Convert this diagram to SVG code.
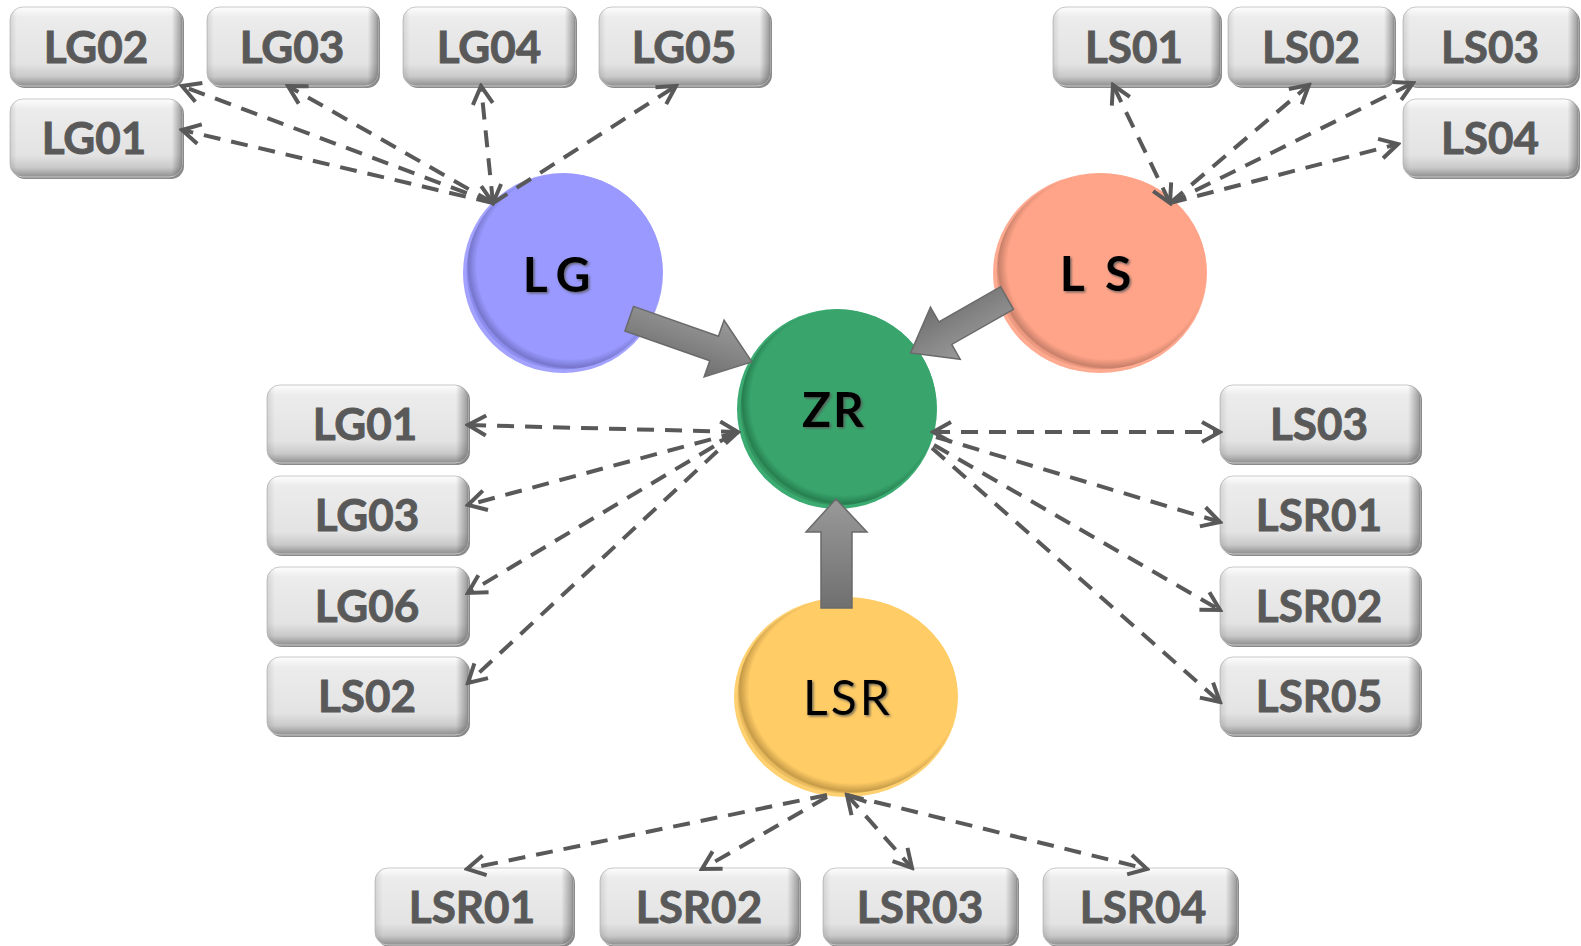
<svg xmlns="http://www.w3.org/2000/svg" width="1581" height="946" viewBox="0 0 1581 946">
<style>
.bs{fill:#8a8a8a}
.bf{fill:url(#boxg);stroke:#c8c8c8;stroke-width:1}
.bh{fill:url(#boxh)}
.bt{font-family:Lato,"Liberation Sans",sans-serif;font-weight:bold;font-size:44px;fill:#595959;stroke:#595959;stroke-width:0.9;text-anchor:middle}
.ct{font-family:Lato,"Liberation Sans",sans-serif;font-size:48px;fill:#000;text-anchor:middle;filter:url(#tsh)}
.dl{fill:none;stroke:#595959;stroke-width:4;stroke-dasharray:17 11;marker-end:url(#ah)}
.ds{marker-start:url(#ah)}
.ta{fill:url(#arg);stroke:#6a6a6a;stroke-width:1.5}
</style>
<defs>
<linearGradient id="boxg" x1="0" y1="0" x2="0" y2="1">
<stop offset="0" stop-color="#fdfdfd"/>
<stop offset="0.13" stop-color="#ececec"/>
<stop offset="0.72" stop-color="#e3e3e3"/>
<stop offset="0.88" stop-color="#c9c9c9"/>
<stop offset="1" stop-color="#8e8e8e"/>
</linearGradient>
<linearGradient id="boxh" x1="0" y1="0" x2="1" y2="0">
<stop offset="0" stop-color="#000" stop-opacity="0.1"/>
<stop offset="0.04" stop-color="#000" stop-opacity="0"/>
<stop offset="0.94" stop-color="#000" stop-opacity="0"/>
<stop offset="1" stop-color="#000" stop-opacity="0.35"/>
</linearGradient>
<linearGradient id="arg" x1="0" y1="0" x2="0" y2="1">
<stop offset="0" stop-color="#999"/>
<stop offset="0.5" stop-color="#858585"/>
<stop offset="1" stop-color="#6f6f6f"/>
</linearGradient>
<radialGradient id="gLG" cx="0.53" cy="0.47" r="0.53">
<stop offset="0.9" stop-color="#9999ff"/>
<stop offset="0.98" stop-color="#7676cc"/>
<stop offset="1" stop-color="#8e8ef0"/>
</radialGradient>
<radialGradient id="gZR" cx="0.53" cy="0.47" r="0.53">
<stop offset="0.9" stop-color="#39a56d"/>
<stop offset="0.98" stop-color="#267f50"/>
<stop offset="1" stop-color="#33955f"/>
</radialGradient>
<radialGradient id="gLS" cx="0.53" cy="0.47" r="0.53">
<stop offset="0.9" stop-color="#ffa488"/>
<stop offset="0.98" stop-color="#c8806a"/>
<stop offset="1" stop-color="#ee9a80"/>
</radialGradient>
<radialGradient id="gLSR" cx="0.53" cy="0.47" r="0.53">
<stop offset="0.9" stop-color="#ffcc66"/>
<stop offset="0.98" stop-color="#c69b48"/>
<stop offset="1" stop-color="#ecbd5e"/>
</radialGradient>
<filter id="tsh" x="-20%" y="-20%" width="140%" height="140%">
<feDropShadow dx="1.5" dy="1.5" stdDeviation="0.8" flood-color="#555" flood-opacity="0.8"/>
</filter>
<marker id="ah" viewBox="0 0 24 24" refX="21" refY="12" markerWidth="24" markerHeight="24" markerUnits="userSpaceOnUse" orient="auto-start-reverse">
<path d="M3,2 L21,12 L3,22" fill="none" stroke="#595959" stroke-width="4" stroke-dasharray="none" stroke-linejoin="miter"/>
</marker>
</defs>
<rect width="1581" height="946" fill="#fff"/>

<g id="node-LG">
<circle cx="563" cy="273" r="100" fill="#a3a3ff"/>
<ellipse cx="564.5" cy="271.5" rx="98" ry="98" fill="url(#gLG)"/>
<text class="ct" x="561" y="292" font-weight="bold" letter-spacing="9">LG</text>
</g>
<g id="node-ZR">
<circle cx="837" cy="409" r="100" fill="#3cab72"/>
<ellipse cx="838.5" cy="407.5" rx="98" ry="98" fill="url(#gZR)"/>
<text class="ct" x="834" y="427" font-weight="bold" letter-spacing="2">ZR</text>
</g>
<g id="node-LS">
<ellipse cx="1100" cy="273" rx="107" ry="100" fill="#ffab92"/>
<ellipse cx="1101.5" cy="271.5" rx="105" ry="98" fill="url(#gLS)"/>
<text class="ct" x="1098" y="291" font-weight="bold" letter-spacing="5">L S</text>
</g>
<g id="node-LSR">
<ellipse cx="846" cy="697" rx="112" ry="100" fill="#ffd070"/>
<ellipse cx="847.5" cy="695.5" rx="110" ry="98" fill="url(#gLSR)"/>
<text class="ct" x="848" y="715" letter-spacing="3">LSR</text>
</g>

<g id="box-LG02"><rect class="bs" x="12" y="9" width="172" height="79" rx="13"/><rect class="bf" x="10" y="7" width="172" height="79" rx="13"/><rect class="bh" x="10" y="7" width="172" height="79" rx="13"/><text class="bt" x="96" y="63">LG02</text></g>
<g id="box-LG03"><rect class="bs" x="209" y="9" width="171" height="79" rx="13"/><rect class="bf" x="207" y="7" width="171" height="79" rx="13"/><rect class="bh" x="207" y="7" width="171" height="79" rx="13"/><text class="bt" x="292" y="63">LG03</text></g>
<g id="box-LG04"><rect class="bs" x="405" y="9" width="172" height="79" rx="13"/><rect class="bf" x="403" y="7" width="172" height="79" rx="13"/><rect class="bh" x="403" y="7" width="172" height="79" rx="13"/><text class="bt" x="489" y="63">LG04</text></g>
<g id="box-LG05"><rect class="bs" x="601" y="9" width="171" height="79" rx="13"/><rect class="bf" x="599" y="7" width="171" height="79" rx="13"/><rect class="bh" x="599" y="7" width="171" height="79" rx="13"/><text class="bt" x="684" y="63">LG05</text></g>
<g id="box-LG01a"><rect class="bs" x="12" y="101" width="172" height="78" rx="13"/><rect class="bf" x="10" y="99" width="172" height="78" rx="13"/><rect class="bh" x="10" y="99" width="172" height="78" rx="13"/><text class="bt" x="94" y="154">LG01</text></g>

<g id="box-LS01"><rect class="bs" x="1055" y="9" width="167" height="79" rx="13"/><rect class="bf" x="1053" y="7" width="167" height="79" rx="13"/><rect class="bh" x="1053" y="7" width="167" height="79" rx="13"/><text class="bt" x="1134" y="63">LS01</text></g>
<g id="box-LS02"><rect class="bs" x="1230" y="9" width="166" height="79" rx="13"/><rect class="bf" x="1228" y="7" width="166" height="79" rx="13"/><rect class="bh" x="1228" y="7" width="166" height="79" rx="13"/><text class="bt" x="1311" y="63">LS02</text></g>
<g id="box-LS03a"><rect class="bs" x="1405" y="9" width="175" height="79" rx="13"/><rect class="bf" x="1403" y="7" width="175" height="79" rx="13"/><rect class="bh" x="1403" y="7" width="175" height="79" rx="13"/><text class="bt" x="1490" y="63">LS03</text></g>
<g id="box-LS04"><rect class="bs" x="1405" y="101" width="175" height="78" rx="13"/><rect class="bf" x="1403" y="99" width="175" height="78" rx="13"/><rect class="bh" x="1403" y="99" width="175" height="78" rx="13"/><text class="bt" x="1490" y="154">LS04</text></g>

<g id="box-LG01b"><rect class="bs" x="269" y="387" width="201" height="78" rx="13"/><rect class="bf" x="267" y="385" width="201" height="78" rx="13"/><rect class="bh" x="267" y="385" width="201" height="78" rx="13"/><text class="bt" x="365" y="440">LG01</text></g>
<g id="box-LG03b"><rect class="bs" x="269" y="478" width="201" height="78" rx="13"/><rect class="bf" x="267" y="476" width="201" height="78" rx="13"/><rect class="bh" x="267" y="476" width="201" height="78" rx="13"/><text class="bt" x="367" y="531">LG03</text></g>
<g id="box-LG06"><rect class="bs" x="269" y="569" width="201" height="78" rx="13"/><rect class="bf" x="267" y="567" width="201" height="78" rx="13"/><rect class="bh" x="267" y="567" width="201" height="78" rx="13"/><text class="bt" x="367" y="622">LG06</text></g>
<g id="box-LS02b"><rect class="bs" x="269" y="659" width="201" height="78" rx="13"/><rect class="bf" x="267" y="657" width="201" height="78" rx="13"/><rect class="bh" x="267" y="657" width="201" height="78" rx="13"/><text class="bt" x="367" y="712">LS02</text></g>

<g id="box-LS03b"><rect class="bs" x="1222" y="387" width="200" height="78" rx="13"/><rect class="bf" x="1220" y="385" width="200" height="78" rx="13"/><rect class="bh" x="1220" y="385" width="200" height="78" rx="13"/><text class="bt" x="1319" y="440">LS03</text></g>
<g id="box-LSR01b"><rect class="bs" x="1222" y="478" width="200" height="78" rx="13"/><rect class="bf" x="1220" y="476" width="200" height="78" rx="13"/><rect class="bh" x="1220" y="476" width="200" height="78" rx="13"/><text class="bt" x="1319" y="531">LSR01</text></g>
<g id="box-LSR02b"><rect class="bs" x="1222" y="569" width="200" height="78" rx="13"/><rect class="bf" x="1220" y="567" width="200" height="78" rx="13"/><rect class="bh" x="1220" y="567" width="200" height="78" rx="13"/><text class="bt" x="1319" y="622">LSR02</text></g>
<g id="box-LSR05"><rect class="bs" x="1222" y="659" width="200" height="78" rx="13"/><rect class="bf" x="1220" y="657" width="200" height="78" rx="13"/><rect class="bh" x="1220" y="657" width="200" height="78" rx="13"/><text class="bt" x="1319" y="712">LSR05</text></g>

<g id="box-LSR01"><rect class="bs" x="377" y="870" width="198" height="77" rx="13"/><rect class="bf" x="375" y="868" width="198" height="77" rx="13"/><rect class="bh" x="375" y="868" width="198" height="77" rx="13"/><text class="bt" x="472" y="923">LSR01</text></g>
<g id="box-LSR02"><rect class="bs" x="602" y="870" width="199" height="77" rx="13"/><rect class="bf" x="600" y="868" width="199" height="77" rx="13"/><rect class="bh" x="600" y="868" width="199" height="77" rx="13"/><text class="bt" x="699" y="923">LSR02</text></g>
<g id="box-LSR03"><rect class="bs" x="825" y="870" width="194" height="77" rx="13"/><rect class="bf" x="823" y="868" width="194" height="77" rx="13"/><rect class="bh" x="823" y="868" width="194" height="77" rx="13"/><text class="bt" x="920" y="923">LSR03</text></g>
<g id="box-LSR04"><rect class="bs" x="1045" y="870" width="194" height="77" rx="13"/><rect class="bf" x="1043" y="868" width="194" height="77" rx="13"/><rect class="bh" x="1043" y="868" width="194" height="77" rx="13"/><text class="bt" x="1143" y="923">LSR04</text></g>

<g id="connectors">
<line class="dl" x1="493" y1="203" x2="182" y2="86"/>
<line class="dl" x1="493" y1="203" x2="182" y2="130"/>
<line class="dl" x1="493" y1="203" x2="288" y2="86"/>
<line class="dl ds" x1="493" y1="203" x2="481" y2="86"/>
<line class="dl" x1="493" y1="203" x2="676" y2="86"/>

<line class="dl ds" x1="1170" y1="203" x2="1113" y2="85"/>
<line class="dl" x1="1170" y1="203" x2="1309" y2="85"/>
<line class="dl" x1="1170" y1="203" x2="1413" y2="83"/>
<line class="dl" x1="1170" y1="203" x2="1398" y2="144"/>

<line class="dl ds" x1="738" y1="432" x2="468" y2="425"/>
<line class="dl" x1="738" y1="432" x2="468" y2="505"/>
<line class="dl" x1="738" y1="432" x2="468" y2="593"/>
<line class="dl" x1="738" y1="432" x2="468" y2="683"/>

<line class="dl ds" x1="933" y1="432" x2="1220" y2="432"/>
<line class="dl" x1="936" y1="437" x2="1220" y2="522"/>
<line class="dl" x1="934" y1="445" x2="1220" y2="610"/>
<line class="dl" x1="932" y1="448" x2="1220" y2="702"/>

<line class="dl" x1="827" y1="795" x2="467" y2="869"/>
<line class="dl" x1="827" y1="797" x2="702" y2="869"/>
<line class="dl ds" x1="847" y1="795" x2="912" y2="868"/>
<line class="dl" x1="847" y1="795" x2="1147" y2="869"/>

<path class="ta" transform="translate(633,320) rotate(19.4)" d="M-4,-13 L86,-13 L86,-30 L126,0 L86,30 L86,13 L-4,13 Z"/>
<path class="ta" transform="translate(1007,298) rotate(150.3)" d="M0,-13 L71,-13 L71,-30 L111,0 L71,30 L71,13 L0,13 Z"/>
<path class="ta" d="M821,608 L821,532 L806,532 L836,499 L867,532 L852,532 L852,608 Z"/>
</g>
</svg>
